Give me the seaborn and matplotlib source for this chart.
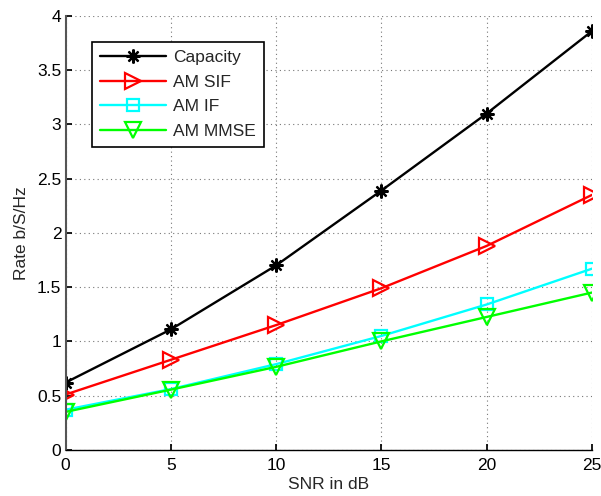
import matplotlib
matplotlib.use("Agg")
import matplotlib.pyplot as plt
import numpy as np
import pandas as pd
import seaborn as sns

snr_db = [0, 5, 10, 15, 20, 25]
capacity = [0.62, 1.11, 1.70, 2.39, 3.10, 3.86]
am_sif = [0.51, 0.83, 1.15, 1.49, 1.88, 2.35]
am_if = [0.37, 0.56, 0.79, 1.05, 1.34, 1.67]
am_mmse = [0.35, 0.555, 0.765, 1.00, 1.225, 1.45]

series_names = ["Capacity", "AM SIF", "AM IF", "AM MMSE"]
x_ticks = [0, 5, 10, 15, 20, 25]
y_ticks = [0, 0.5, 1, 1.5, 2, 2.5, 3, 3.5, 4]
y_ticklabels = ["0", "0.5", "1", "1.5", "2", "2.5", "3", "3.5", "4"]

sns.set_theme(style="white")
plt.rcParams["font.family"] = ["Liberation Sans", "DejaVu Sans"]

df = pd.DataFrame({
    "snr": snr_db * 4,
    "rate": capacity + am_sif + am_if + am_mmse,
    "scheme": np.repeat(series_names, len(snr_db)),
})

# colour, marker, marker size
styles = {
    "Capacity": ("black", (8, 2, 0), 10),
    "AM SIF": ("red", ">", 11),
    "AM IF": ("cyan", "s", 8.5),
    "AM MMSE": ("#00ff00", "v", 11),
}

fig = plt.figure(figsize=(6.01, 4.96), dpi=100)
ax = fig.add_axes([0.109, 0.093, 0.876, 0.875])

for name in series_names:
    color, marker, ms = styles[name]
    sub = df[df["scheme"] == name]
    sns.lineplot(data=sub, x="snr", y="rate", ax=ax, color=color, lw=1.7,
                 marker=marker, markersize=ms, markerfacecolor="none",
                 markeredgecolor=color, markeredgewidth=1.6, label=name)

ax.set_xlim(0, 25)
ax.set_ylim(0, 4)
ax.set_xticks(x_ticks)
ax.set_yticks(y_ticks)
ax.set_yticklabels(y_ticklabels)
ax.grid(True, ls=(0, (1, 3)), color="#777777", lw=0.8)
ax.tick_params(direction="in", length=4, labelsize=12.5, colors="black",
               left=True, bottom=True)
ax.tick_params(axis="x", pad=6)
ax.tick_params(axis="y", pad=3)
for side in ["top", "right"]:
    ax.spines[side].set_visible(False)
ax.spines["left"].set_color("#555555")
ax.spines["left"].set_linewidth(1.5)
ax.spines["bottom"].set_color("black")
ax.spines["bottom"].set_linewidth(1.0)

ax.set_xlabel("SNR in dB", fontsize=12.5, labelpad=3)
ax.set_ylabel("Rate b/S/Hz", fontsize=12.5, labelpad=6)

leg = ax.legend(loc="upper left", bbox_to_anchor=(0.051, 0.94), fontsize=12.5,
                frameon=True, fancybox=False, edgecolor="black",
                handlelength=3.8, handletextpad=0.4, borderpad=0.45,
                labelspacing=0.55, borderaxespad=0)
leg.get_frame().set_linewidth(1.2)
leg.get_frame().set_alpha(1)

fig.savefig("out.png", dpi=100)
